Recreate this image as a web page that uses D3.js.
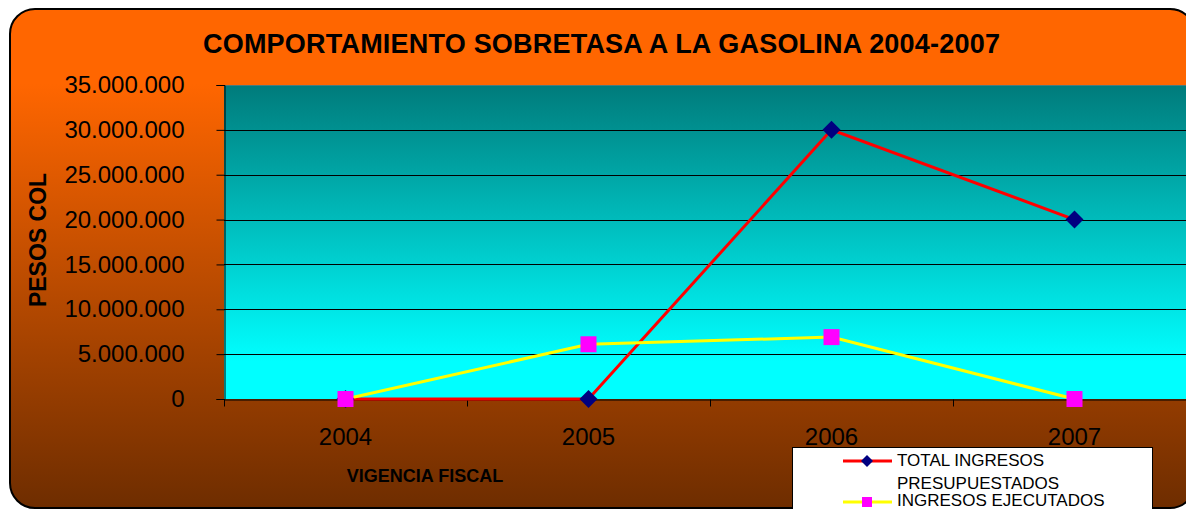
<!DOCTYPE html>
<html><head><meta charset="utf-8">
<script src="https://cdn.jsdelivr.net/npm/d3@7"></script>
<style>
html,body{margin:0;padding:0;background:#fff;overflow:hidden}
text{font-family:"Liberation Sans",Arial,sans-serif}
</style></head>
<body>
<svg id="chart" width="1186" height="509"></svg>
<script>
const title = "COMPORTAMIENTO SOBRETASA A LA GASOLINA 2004-2007";
const categories = ["2004","2005","2006","2007"];
const seriesNames = ["TOTAL INGRESOS PRESUPUESTADOS","INGRESOS EJECUTADOS"];
const totalPresupuestados = [0, 0, 30000000, 20000000];
const ingresosEjecutados = [0, 6100000, 6900000, 0];
const yTicks = [0,5000000,10000000,15000000,20000000,25000000,30000000,35000000];
const yTitle = "PESOS COL";
const xTitle = "VIGENCIA FISCAL";

(function(){
const svg = d3.select("#chart");
const defs = svg.append("defs");
const gFrame = defs.append("linearGradient").attr("id","frameGrad")
  .attr("gradientUnits","userSpaceOnUse").attr("x1",0).attr("y1",9).attr("x2",0).attr("y2",508);
gFrame.append("stop").attr("offset","0%").attr("stop-color","#FF6600");
gFrame.append("stop").attr("offset","15%").attr("stop-color","#FF6600");
gFrame.append("stop").attr("offset","100%").attr("stop-color","#6E2D00");
const gPlot = defs.append("linearGradient").attr("id","plotGrad")
  .attr("x1",0).attr("y1",0).attr("x2",0).attr("y2",1);
gPlot.append("stop").attr("offset","0%").attr("stop-color","#007B7B");
gPlot.append("stop").attr("offset","88%").attr("stop-color","#00FFFF");
gPlot.append("stop").attr("offset","100%").attr("stop-color","#00FFFF");

// frame
svg.append("rect").attr("x",10).attr("y",9).attr("width",1185).attr("height",499)
  .attr("rx",25).attr("ry",25).attr("fill","url(#frameGrad)")
  .attr("stroke","#000").attr("stroke-width",2);

const pLeft = 224, pRight = 1196, pTop = 85, pBottom = 399;
const x = d3.scaleBand().domain(categories).range([pLeft,pRight]).padding(0);
const y = d3.scaleLinear().domain([0,35000000]).range([pBottom,pTop]);

// plot area
svg.append("rect").attr("x",pLeft).attr("y",pTop).attr("width",pRight-pLeft).attr("height",pBottom-pTop)
  .attr("fill","url(#plotGrad)");

// gridlines
svg.append("g").selectAll("line").data(yTicks.filter(d=>d>0)).join("line")
  .attr("x1",pLeft).attr("x2",pRight).attr("y1",d=>Math.round(y(d))+0.5).attr("y2",d=>Math.round(y(d))+0.5)
  .attr("stroke",d=>d===35000000?"#4A7A7A":"#000").attr("stroke-width",1);

const loc = d3.formatLocale({decimal:",",thousands:".",grouping:[3],currency:["$",""]});
const fmt = loc.format(",.0f");

// y axis
const yAxis = d3.axisLeft(y).tickValues(yTicks).tickFormat(fmt).tickSize(8).tickPadding(32);
const gy = svg.append("g").attr("transform",`translate(${pLeft+0.5},0)`).call(yAxis);
gy.select(".domain").attr("stroke","#000");
gy.selectAll(".tick line").attr("stroke","#000");
gy.selectAll(".tick text").attr("font-size",24).attr("fill","#000")
  .attr("font-family","'Liberation Sans',Arial,sans-serif");

// x axis
const xAxis = d3.axisBottom(x).tickSize(0).tickPadding(28);
const gx = svg.append("g").attr("transform",`translate(0,${pBottom+0.5})`).call(xAxis);
gx.select(".domain").attr("stroke","#000");
gx.selectAll(".tick text").attr("font-size",24).attr("fill","#000")
  .attr("font-family","'Liberation Sans',Arial,sans-serif");
gx.append("g").selectAll("line").data(categories).join("line")
  .attr("x1",d=>Math.round(x(d))+0.5).attr("x2",d=>Math.round(x(d))+0.5)
  .attr("y1",0).attr("y2",7).attr("stroke","#000");

// lines
const line = d3.line().x((d,i)=>x(categories[i])+x.bandwidth()/2).y(d=>y(d));
svg.append("path").datum(totalPresupuestados).attr("d",line)
  .attr("fill","none").attr("stroke","#FF0000").attr("stroke-width",3);
svg.append("path").datum(ingresosEjecutados).attr("d",line)
  .attr("fill","none").attr("stroke","#FFFF00").attr("stroke-width",3);

const diamond = (cx,cy,r)=>`M${cx},${cy-r}L${cx+r},${cy}L${cx},${cy+r}L${cx-r},${cy}Z`;
svg.append("g").selectAll("path").data(totalPresupuestados).join("path")
  .attr("d",(d,i)=>diamond(x(categories[i])+x.bandwidth()/2, y(d), 9))
  .attr("fill","#000080");
svg.append("g").selectAll("rect").data(ingresosEjecutados).join("rect")
  .attr("x",(d,i)=>x(categories[i])+x.bandwidth()/2-8).attr("y",d=>y(d)-8)
  .attr("width",16).attr("height",16).attr("fill","#FF00FF");

// titles
svg.append("text").attr("x",601.5).attr("y",53).attr("text-anchor","middle")
  .attr("font-size",27).attr("font-weight","bold").attr("fill","#000")
  .attr("textLength",797).attr("lengthAdjust","spacing").text(title);
svg.append("text").attr("transform","translate(46,240) rotate(-90)").attr("text-anchor","middle")
  .attr("font-size",23).attr("font-weight","bold").attr("fill","#000").text(yTitle);
svg.append("text").attr("x",425).attr("y",482).attr("text-anchor","middle")
  .attr("font-size",18).attr("font-weight","bold").attr("fill","#000").text(xTitle);

// legend
const lg = svg.append("g");
lg.append("rect").attr("x",792.5).attr("y",447.5).attr("width",360).attr("height",80)
  .attr("fill","#fff").attr("stroke","#000").attr("stroke-width",1);
lg.append("line").attr("x1",843).attr("x2",892).attr("y1",461).attr("y2",461)
  .attr("stroke","#FF0000").attr("stroke-width",3);
lg.append("path").attr("d",diamond(867,461,6)).attr("fill","#000080");
lg.append("line").attr("x1",843).attr("x2",892).attr("y1",502).attr("y2",502)
  .attr("stroke","#FFFF00").attr("stroke-width",3);
lg.append("rect").attr("x",862).attr("y",497).attr("width",10).attr("height",10).attr("fill","#FF00FF");
const legendLines = [["TOTAL INGRESOS",466],["PRESUPUESTADOS",489],[seriesNames[1],506]];
lg.selectAll("text.l").data(legendLines).join("text").attr("class","l")
  .attr("x",897).attr("y",d=>d[1]).attr("font-size",17).attr("fill","#000").text(d=>d[0]);
})();
</script>
</body></html>
